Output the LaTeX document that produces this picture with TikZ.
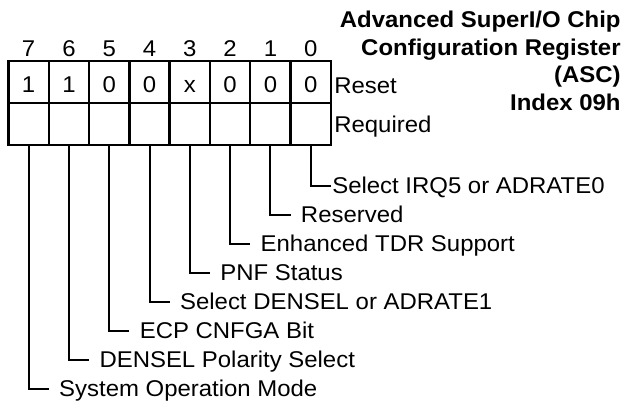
\documentclass[tikz,border=0pt]{standalone}
\usepackage{fontspec}
\setmainfont{Liberation Sans}[FakeStretch=1.05]
\usetikzlibrary{positioning}

\newcommand{\regfont}{\fontsize{11.4}{13.85}\selectfont}

\begin{document}
\begin{tikzpicture}[x=0.5pt, y=-0.5pt, node distance=0pt, every node/.style={font=\regfont}]
    \tikzset{
        cell/.style = {rectangle, draw=black, line width=1.2pt, outer sep=0pt, inner sep=0pt,
                       minimum width=20.15pt, minimum height=21pt, text height=10pt, text depth=0pt},
        bitnum/.style = {inner sep=0pt, text depth=0pt},
        field/.style = {anchor=west, inner ysep=0pt, inner xsep=5pt, text height=8.1pt, text depth=0pt},
        wire/.style = {line width=1pt},
    }
    \fill [white] (0,0) rectangle (629,402);
    \useasboundingbox (0,0) rectangle (629,402);

    % reset values
    \node (r7) [cell] at (28.65,82) {1};
    \node (r6) [cell, right=of r7] {1};
    \node (r5) [cell, right=of r6] {0};
    \node (r4) [cell, right=of r5] {0};
    \node (r3) [cell, right=of r4] {x};
    \node (r2) [cell, right=of r3] {0};
    \node (r1) [cell, right=of r2] {0};
    \node (r0) [cell, right=of r1] {0};

    % required values (empty)
    \node (q7) [cell, below=of r7] {};
    \node (q6) [cell, below=of r6] {};
    \node (q5) [cell, below=of r5] {};
    \node (q4) [cell, below=of r4] {};
    \node (q3) [cell, below=of r3] {};
    \node (q2) [cell, below=of r2] {};
    \node (q1) [cell, below=of r1] {};
    \node (q0) [cell, below=of r0] {};

    % bit numbers
    \node (b7) [bitnum, above=2pt of r7] {7};
    \node (b6) [bitnum, above=2pt of r6] {6};
    \node (b5) [bitnum, above=2pt of r5] {5};
    \node (b4) [bitnum, above=2pt of r4] {4};
    \node (b3) [bitnum, above=2pt of r3] {3};
    \node (b2) [bitnum, above=2pt of r2] {2};
    \node (b1) [bitnum, above=2pt of r1] {1};
    \node (b0) [bitnum, above=2pt of r0] {0};

    \node (reset) [field, inner xsep=1.5pt, right=of r0, yshift=-1.75pt] {Reset};
    \node (req) [field, inner xsep=1.5pt, right=of q0] {Required};

    \node (title) [anchor=north east, align=right, inner sep=0pt, font=\regfont\bfseries] at (621,10.5)
        {Advanced SuperI/O Chip\\Configuration Register\\(ASC)\\Index 09h};

    % bit fields
    \node (f0) [field, inner xsep=0.5pt] at (330.9,185.5) {Select IRQ5 or ADRATE0};
    \node (f1) [field] at (290.6,214.5) {Reserved};
    \node (f2) [field] at (250.3,243.5) {Enhanced TDR Support};
    \node (f3) [field] at (210,272.5) {PNF Status};
    \node (f4) [field] at (169.7,301.5) {Select DENSEL or ADRATE1};
    \node (f5) [field] at (129.4,330.5) {ECP CNFGA Bit};
    \node (f6) [field] at (89.1,359.5) {DENSEL Polarity Select};
    \node (f7) [field] at (48.8,388.5) {System Operation Mode};

    \draw [wire] (q0.south) |- (f0.west);
    \draw [wire] (q1.south) |- (f1.west);
    \draw [wire] (q2.south) |- (f2.west);
    \draw [wire] (q3.south) |- (f3.west);
    \draw [wire] (q4.south) |- (f4.west);
    \draw [wire] (q5.south) |- (f5.west);
    \draw [wire] (q6.south) |- (f6.west);
    \draw [wire] (q7.south) |- (f7.west);
\end{tikzpicture}
\end{document}
